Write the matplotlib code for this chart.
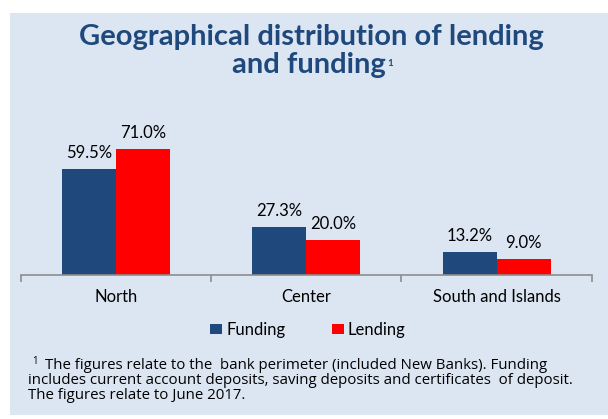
import matplotlib.pyplot as plt
from matplotlib.patches import Rectangle
import numpy as np

# data
regions = ['North', 'Center', 'South and Islands']
funding = [59.5, 27.3, 13.2]
lending = [71.0, 20.0, 9.0]

navy = '#1F497D'
red = '#FF0000'
panel_bg = '#DCE6F2'

plt.rcParams['font.family'] = ['Lato', 'DejaVu Sans']

W, H = 608, 419
fig = plt.figure(figsize=(W / 100, H / 100), dpi=100)
fig.patch.set_facecolor('white')
px = 72 / 100  # points per pixel

# light blue panel
fig.patches.append(Rectangle((10 / W, (H - 415) / H), 1, (415 - 13) / H,
                             transform=fig.transFigure, facecolor=panel_bg,
                             edgecolor='none', zorder=-5))

# axes: baseline at y=275px, 100% -> 177.5px
left, right = 20.7, 591.8
base = 275
ax = fig.add_axes([left / W, (H - base) / H, (right - left) / W, 177.5 / H])
ax.set_facecolor('none')

x = np.arange(len(regions))
bw = 0.284
b1 = ax.bar(x - bw / 2, funding, bw, color=navy, label='Funding')
b2 = ax.bar(x + bw / 2, lending, bw, color=red, label='Lending')

for bars, vals in [(b1, funding), (b2, lending)]:
    for b, v in zip(bars, vals):
        ax.annotate(f'{v:.1f}%', (b.get_x() + b.get_width() / 2, v),
                    xytext=(0, 11 * px), textcoords='offset points',
                    ha='center', va='baseline', fontsize=12, color='black')

ax.set_xlim(-0.5, 2.5)
ax.set_ylim(0, 100)
ax.set_yticks([])
for s in ['top', 'right', 'left']:
    ax.spines[s].set_visible(False)
ax.spines['bottom'].set_color('#8C8C8C')
ax.spines['bottom'].set_linewidth(1.2)

ax.set_xticks([-0.5, 0.5, 1.5, 2.5])
ax.set_xticklabels([])
ax.tick_params(axis='x', which='major', length=5, width=1.2, color='#8C8C8C')

# category labels
for xi, name in zip(x, regions):
    ax.annotate(name, (xi, 0), xycoords=('data', 'axes fraction'),
                xytext=(0, -27 * px), textcoords='offset points',
                ha='center', va='baseline', fontsize=12, color='black')

# title
fig.text(311 / W, 1 - 45 / H, 'Geographical distribution of lending',
         ha='center', va='baseline', fontsize=21, fontweight='bold', color=navy)
t2 = fig.text(309 / W, 1 - 73 / H, 'and funding',
              ha='center', va='baseline', fontsize=21, fontweight='bold', color=navy)
ax.annotate('1', xy=(1, 0), xycoords=t2, xytext=(1.5 * px, 12 * px),
            textcoords='offset points', ha='left', va='baseline',
            fontsize=7, fontweight='bold', color=navy, annotation_clip=False)

# legend
leg = fig.legend(handles=[b1, b2], loc='center', bbox_to_anchor=(308 / W, 1 - 330 / H),
                 ncol=2, frameon=False, fontsize=12, handlelength=0.7,
                 handleheight=0.6, handletextpad=0.25, columnspacing=2.8)

# footnote
note_font = ['Open Sans', 'DejaVu Sans']
fig.text(32 / W, 1 - 364 / H, '1', ha='left', va='baseline', fontsize=7,
         color='black', family=note_font)
note_lines = ['The figures relate to the  bank perimeter (included New Banks). Funding',
              'includes current account deposits, saving deposits and certificates  of deposit.',
              'The figures relate to June 2017.']
for i, line in enumerate(note_lines):
    x0 = 45 if i == 0 else 28
    fig.text(x0 / W, 1 - (369 + 15 * i) / H, line, ha='left', va='baseline',
             fontsize=10.8, color='black', family=note_font)

fig.savefig('out.png', dpi=100)
